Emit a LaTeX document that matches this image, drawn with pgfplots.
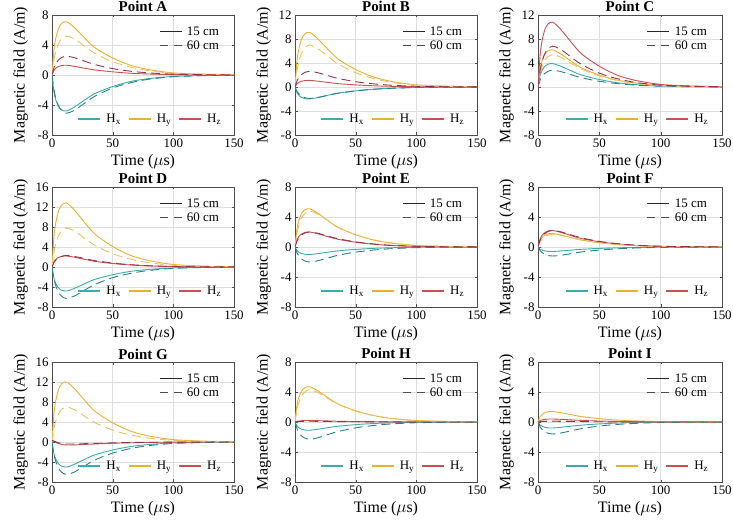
\documentclass[border=0pt]{standalone}
\usepackage{pgfplots}
\pgfplotsset{compat=1.18}
\usepackage{pgfplotstable}
\usepackage{fontspec}
\setmainfont{Liberation Serif}

\definecolor{cx}{RGB}{58,172,172}
\definecolor{cxd}{RGB}{40,128,136}
\definecolor{cy}{RGB}{234,176,48}
\definecolor{cyd}{RGB}{236,192,96}
\definecolor{cz}{RGB}{200,80,80}
\definecolor{czd}{RGB}{150,50,75}

\pgfplotstableread{
t xs ys zs xd yd zd
0 0 0 0 0 0 0
2 -2.64 3.91 0.72 -2.30 2.34 1.13
5 -4.08 6.04 1.11 -3.98 4.06 1.95
8 -4.66 6.89 1.26 -4.74 4.84 2.33
12 -4.80 7.10 1.30 -5.10 5.20 2.50
18 -4.32 6.39 1.17 -4.74 4.84 2.33
25 -3.55 5.25 0.96 -3.98 4.06 1.95
35 -2.50 3.69 0.68 -2.86 2.91 1.40
50 -1.54 2.27 0.42 -1.73 1.77 0.85
65 -0.86 1.28 0.23 -1.02 1.04 0.50
80 -0.48 0.71 0.13 -0.56 0.57 0.28
100 -0.19 0.28 0.05 -0.23 0.23 0.11
125 -0.07 0.11 0.02 -0.09 0.09 0.04
150 -0.02 0.04 0.01 -0.03 0.03 0.02
}\tA
\pgfplotstableread{
t xs ys zs xd yd zd
0 0 0 0 0 0 0
2 -1.10 5.01 0.61 -0.86 3.15 1.17
5 -1.70 7.74 0.94 -1.48 5.46 2.03
8 -1.94 8.83 1.07 -1.77 6.51 2.42
12 -2.00 9.10 1.10 -1.90 7.00 2.60
18 -1.80 8.19 0.99 -1.77 6.51 2.42
25 -1.48 6.73 0.81 -1.48 5.46 2.03
35 -1.04 4.73 0.57 -1.06 3.92 1.46
50 -0.64 2.91 0.35 -0.65 2.38 0.88
65 -0.36 1.64 0.20 -0.38 1.40 0.52
80 -0.20 0.91 0.11 -0.21 0.77 0.29
100 -0.08 0.36 0.04 -0.09 0.32 0.12
125 -0.03 0.14 0.02 -0.03 0.12 0.04
150 -0.01 0.05 0.01 -0.01 0.04 0.02
}\tB
\pgfplotstableread{
t xs ys zs xd yd zd
0 0 0 0 0 0 0
2 2.15 3.41 5.94 1.26 2.43 3.06
5 3.32 5.27 9.18 2.18 4.21 5.30
8 3.78 6.01 10.48 2.60 5.02 6.32
12 3.90 6.20 10.80 2.80 5.40 6.80
18 3.51 5.58 9.72 2.60 5.02 6.32
25 2.89 4.59 7.99 2.18 4.21 5.30
35 2.03 3.22 5.62 1.57 3.02 3.81
50 1.25 1.98 3.46 0.95 1.84 2.31
65 0.70 1.12 1.94 0.56 1.08 1.36
80 0.39 0.62 1.08 0.31 0.59 0.75
100 0.16 0.25 0.43 0.13 0.24 0.31
125 0.06 0.09 0.16 0.05 0.09 0.12
150 0.02 0.03 0.05 0.02 0.03 0.04
}\tC
\pgfplotstableread{
t xs ys zs xd yd zd
0 0 0 0 0 0 0
2 -2.64 7.04 1.21 -2.84 3.51 1.04
5 -4.08 10.88 1.87 -4.91 6.08 1.79
8 -4.66 12.42 2.13 -5.86 7.25 2.14
12 -4.80 12.80 2.20 -6.30 7.80 2.30
18 -4.32 11.52 1.98 -5.86 7.25 2.14
25 -3.55 9.47 1.63 -4.91 6.08 1.79
35 -2.50 6.66 1.14 -3.53 4.37 1.29
50 -1.54 4.10 0.70 -2.14 2.65 0.78
65 -0.86 2.30 0.40 -1.26 1.56 0.46
80 -0.48 1.28 0.22 -0.69 0.86 0.25
100 -0.19 0.51 0.09 -0.28 0.35 0.10
125 -0.07 0.19 0.03 -0.11 0.13 0.04
150 -0.02 0.06 0.01 -0.04 0.05 0.01
}\tD
\pgfplotstableread{
t xs ys zs xd yd zd
0 0 0 0 0 0 0
2 -0.55 2.81 1.10 -0.90 2.16 0.90
5 -0.85 4.34 1.70 -1.56 3.74 1.56
8 -0.97 4.95 1.94 -1.86 4.46 1.86
12 -1.00 5.10 2.00 -2.00 4.80 2.00
18 -0.90 4.59 1.80 -1.86 4.46 1.86
25 -0.74 3.77 1.48 -1.56 3.74 1.56
35 -0.52 2.65 1.04 -1.12 2.69 1.12
50 -0.32 1.63 0.64 -0.68 1.63 0.68
65 -0.18 0.92 0.36 -0.40 0.96 0.40
80 -0.10 0.51 0.20 -0.22 0.53 0.22
100 -0.04 0.20 0.08 -0.09 0.22 0.09
125 -0.02 0.08 0.03 -0.03 0.08 0.03
150 -0.01 0.03 0.01 -0.01 0.03 0.01
}\tE
\pgfplotstableread{
t xs ys zs xd yd zd
0 0 0 0 0 0 0
2 -0.33 0.99 1.21 -0.54 0.77 0.99
5 -0.51 1.53 1.87 -0.94 1.33 1.72
8 -0.58 1.75 2.13 -1.12 1.58 2.05
12 -0.60 1.80 2.20 -1.20 1.70 2.20
18 -0.54 1.62 1.98 -1.12 1.58 2.05
25 -0.44 1.33 1.63 -0.94 1.33 1.72
35 -0.31 0.94 1.14 -0.67 0.95 1.23
50 -0.19 0.58 0.70 -0.41 0.58 0.75
65 -0.11 0.32 0.40 -0.24 0.34 0.44
80 -0.06 0.18 0.22 -0.13 0.19 0.24
100 -0.02 0.07 0.09 -0.05 0.08 0.10
125 -0.01 0.03 0.03 -0.02 0.03 0.04
150 0 0.01 0.01 -0.01 0.01 0.01
}\tF
\pgfplotstableread{
t xs ys zs xd yd zd
0 0 0 0.30 0 0 0.30
2 -2.75 6.60 0.10 -2.93 3.15 0.15
5 -4.25 10.20 -0.30 -5.07 5.46 -0.15
8 -4.85 11.64 -0.50 -6.05 6.51 -0.30
12 -5.00 12.00 -0.60 -6.50 7.00 -0.40
18 -4.50 10.80 -0.58 -6.05 6.51 -0.40
25 -3.70 8.88 -0.50 -5.07 5.46 -0.35
35 -2.60 6.24 -0.40 -3.64 3.92 -0.28
50 -1.60 3.84 -0.25 -2.21 2.38 -0.18
65 -0.90 2.16 -0.15 -1.30 1.40 -0.10
80 -0.50 1.20 -0.08 -0.72 0.77 -0.06
100 -0.20 0.48 -0.03 -0.29 0.32 -0.02
125 -0.08 0.18 -0.01 -0.11 0.12 -0.01
150 -0.03 0.06 0 -0.04 0.04 0
}\tG
\pgfplotstableread{
t xs ys zs xd yd zd
0 0 0 0 0 0 0
2 -0.61 2.59 0.11 -1.04 1.94 0.05
5 -0.94 4.00 0.17 -1.79 3.35 0.08
8 -1.07 4.56 0.19 -2.14 4.00 0.09
12 -1.10 4.70 0.20 -2.30 4.30 0.10
18 -0.99 4.23 0.18 -2.14 4.00 0.09
25 -0.81 3.48 0.15 -1.79 3.35 0.08
35 -0.57 2.44 0.10 -1.29 2.41 0.06
50 -0.35 1.50 0.06 -0.78 1.46 0.03
65 -0.20 0.85 0.04 -0.46 0.86 0.02
80 -0.11 0.47 0.02 -0.25 0.47 0.01
100 -0.04 0.19 0.01 -0.10 0.19 0
125 -0.02 0.07 0 -0.04 0.07 0
150 -0.01 0.02 0 -0.01 0.03 0
}\tH
\pgfplotstableread{
t xs ys zs xd yd zd
0 0 0 0 0 0 0
2 -0.44 0.77 0.22 -0.72 0.07 0.05
5 -0.68 1.19 0.34 -1.25 0.12 0.08
8 -0.78 1.36 0.39 -1.49 0.14 0.09
12 -0.80 1.40 0.40 -1.60 0.15 0.10
18 -0.72 1.26 0.36 -1.49 0.14 0.09
25 -0.59 1.04 0.30 -1.25 0.12 0.08
35 -0.42 0.73 0.21 -0.90 0.08 0.06
50 -0.26 0.45 0.13 -0.54 0.05 0.03
65 -0.14 0.25 0.07 -0.32 0.03 0.02
80 -0.08 0.14 0.04 -0.18 0.02 0.01
100 -0.03 0.06 0.02 -0.07 0.01 0
125 -0.01 0.02 0.01 -0.03 0 0
150 0 0.01 0 -0.01 0 0
}\tI

\pgfplotsset{
  legend image code/.code={\draw[#1] (0bp,0bp) -- (22bp,0bp); \path (25bp,0bp);},
  every axis title shift=0pt,
  solidline/.style={line width=0.9bp, smooth},
  dashline/.style={line width=0.9bp, smooth, dash pattern=on 9bp off 5bp},
  base/.style={
    scale only axis, height=120bp,
    xmin=0, xmax=150, xtick={0,50,100,150}, ytick distance=4,
    grid=major, major grid style={black!13, line width=0.5bp},
    axis line style={black!70, line width=0.6bp},
    tick style={black!70}, tick align=inside, major tick length=2.5bp,
    /pgf/number format/assume math mode=true,
    tick label style={font=\fontsize{13}{14}\selectfont},
    label style={font=\fontsize{16}{18}\selectfont},
    xlabel={Time ($\mu$s)}, ylabel={Magnetic field (A/m)},
    xlabel style={at={(axis description cs:0.5,0)}, anchor=center, yshift=-27bp},
    ylabel style={at={(axis description cs:-0.172,0.5)}, anchor=center},
    title style={font=\fontsize{15}{17}\selectfont\bfseries, at={(axis description cs:0.5,1)}, anchor=base, yshift=3bp},
    legend columns=3,
    legend style={draw=none, fill=none, font=\fontsize{13}{14}\selectfont,
      at={(axis description cs:0.54,0.13)}, anchor=center, inner sep=1bp,
      /tikz/every even column/.append style={column sep=5bp}},
  },
  leg/.style={
    scale only axis, height=120bp, xmin=0, xmax=150, hide axis,
    legend style={draw=none, fill=none, font=\fontsize{13}{14}\selectfont,
      at={(axis description cs:0.935,0.93)}, anchor=north east, inner sep=1bp,
      row sep=0bp},
    legend cell align=left,
  },
}

\newcommand{\panel}[7]{%
\begin{axis}[base, at={(#1bp,#2bp)}, width=#3bp, title={#4}, ymin=#5, ymax=#6]
\addplot[solidline, cx, forget plot] table[x=t,y=xs]{#7};
\addplot[solidline, cy, forget plot] table[x=t,y=ys]{#7};
\addplot[solidline, cz, forget plot] table[x=t,y=zs]{#7};
\addplot[dashline, cxd, forget plot] table[x=t,y=xd]{#7};
\addplot[dashline, cyd, forget plot] table[x=t,y=yd]{#7};
\addplot[dashline, czd, forget plot] table[x=t,y=zd]{#7};
\addlegendimage{color=cx, line width=2bp}
\addlegendentry{H\textsubscript{x}}
\addlegendimage{color=cy, line width=2bp}
\addlegendentry{H\textsubscript{y}}
\addlegendimage{color=cz, line width=2bp}
\addlegendentry{H\textsubscript{z}}
\end{axis}
\begin{axis}[leg, at={(#1bp,#2bp)}, width=#3bp, ymin=#5, ymax=#6]
\addlegendimage{draw=black!85, line width=0.9bp}
\addlegendentry{15 cm}
\addlegendimage{draw=black!70, line width=0.9bp, dash pattern=on 8bp off 6bp}
\addlegendentry{60 cm}
\end{axis}}

\begin{document}
\begin{tikzpicture}
\useasboundingbox (0bp,0bp) rectangle (733bp,525bp);
\panel{52}{390}{182}{Point A}{-8}{8}{\tA}
\panel{295}{390}{182}{Point B}{-8}{12}{\tB}
\panel{538}{390}{184}{Point C}{-8}{12}{\tC}
\panel{52}{218}{182}{Point D}{-8}{16}{\tD}
\panel{295}{218}{182}{Point E}{-8}{8}{\tE}
\panel{538}{218}{184}{Point F}{-8}{8}{\tF}
\panel{52}{43}{182}{Point G}{-8}{16}{\tG}
\panel{295}{43}{182}{Point H}{-8}{8}{\tH}
\panel{538}{43}{184}{Point I}{-8}{8}{\tI}
\end{tikzpicture}
\end{document}
